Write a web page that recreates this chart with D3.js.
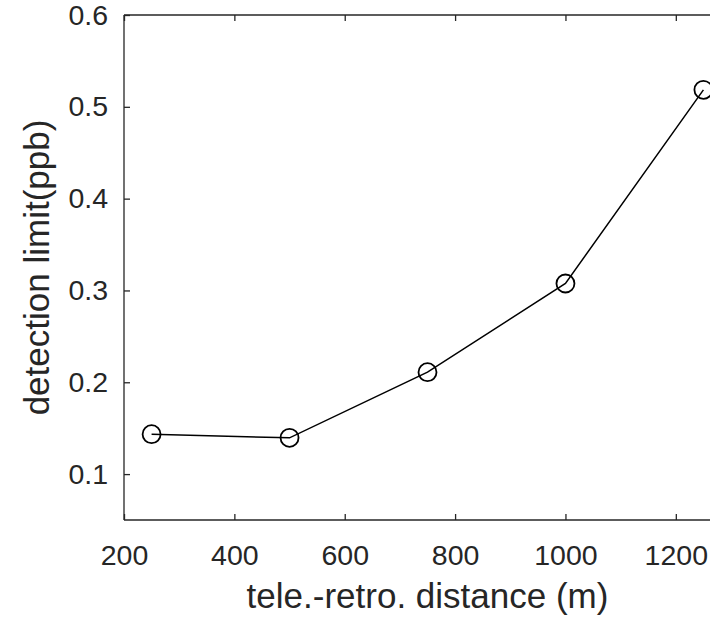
<!DOCTYPE html>
<html>
<head>
<meta charset="utf-8">
<script src="https://cdn.jsdelivr.net/npm/d3@7"></script>
<style>
  html, body { margin: 0; padding: 0; background: #fff; }
  svg { display: block; }
  text { font-family: "Liberation Sans", Arial, Helvetica, sans-serif; fill: #262626; }
</style>
</head>
<body>
<svg id="chart" width="710" height="619"></svg>
<script>
// Data
const distances = [250, 500, 750, 1000, 1250];
const detectionLimit = [0.1435, 0.1395, 0.211, 0.3076, 0.5185];
const xTicks = [200, 400, 600, 800, 1000, 1200];
const yTicks = [0.1, 0.2, 0.3, 0.4, 0.5, 0.6];
const xLabel = "tele.-retro. distance (m)";
const yLabel = "detection limit(ppb)";

(function () {
const svg = d3.select("#chart");
const mLeft = 124, mTop = 15, mRight = 731, mBottom = 520;
const axisColor = "#262626";

const x = d3.scaleLinear().domain([200, 1300]).range([mLeft, mRight]);
const y = d3.scaleLinear().domain([0.05, 0.6]).range([mBottom, mTop]);

// Box lines
const box = svg.append("g").attr("stroke", axisColor).attr("stroke-width", 1.3).attr("fill", "none");
box.append("line").attr("x1", mLeft).attr("x2", mRight).attr("y1", mBottom).attr("y2", mBottom);
box.append("line").attr("x1", mLeft).attr("x2", mRight).attr("y1", mTop).attr("y2", mTop);
box.append("line").attr("x1", mLeft).attr("x2", mLeft).attr("y1", mTop).attr("y2", mBottom);
box.append("line").attr("x1", mRight).attr("x2", mRight).attr("y1", mTop).attr("y2", mBottom);

// Bottom axis (ticks inward)
const xAxis = d3.axisBottom(x).tickValues(xTicks).tickSizeInner(-6).tickSizeOuter(0).tickPadding(25).tickFormat(d3.format("d"));
const gx = svg.append("g").attr("transform", `translate(0,${mBottom})`).call(xAxis);
gx.select(".domain").remove();
gx.selectAll("line").attr("stroke", axisColor).attr("stroke-width", 1.3);
gx.selectAll("text").attr("font-size", 28.5).attr("fill", axisColor).attr("font-family", '"Liberation Sans", Arial, sans-serif');

// Top axis ticks
const xTop = d3.axisTop(x).tickValues(xTicks).tickSizeInner(-6).tickSizeOuter(0).tickFormat("");
const gxt = svg.append("g").attr("transform", `translate(0,${mTop})`).call(xTop);
gxt.select(".domain").remove();
gxt.selectAll("line").attr("stroke", axisColor).attr("stroke-width", 1.3);

// Left axis
const yAxis = d3.axisLeft(y).tickValues(yTicks).tickSizeInner(-6).tickSizeOuter(0).tickPadding(16).tickFormat(d3.format(".1f"));
const gy = svg.append("g").attr("transform", `translate(${mLeft},0)`).call(yAxis);
gy.select(".domain").remove();
gy.selectAll("line").attr("stroke", axisColor).attr("stroke-width", 1.3);
gy.selectAll("text").attr("font-size", 28.5).attr("fill", axisColor).attr("font-family", '"Liberation Sans", Arial, sans-serif');

// Right axis ticks
const yRight = d3.axisRight(y).tickValues(yTicks).tickSizeInner(-6).tickSizeOuter(0).tickFormat("");
const gyr = svg.append("g").attr("transform", `translate(${mRight},0)`).call(yRight);
gyr.select(".domain").remove();
gyr.selectAll("line").attr("stroke", axisColor).attr("stroke-width", 1.3);

// Data line
const pts = distances.map((d, i) => [d, detectionLimit[i]]);
svg.append("path")
  .datum(pts)
  .attr("fill", "none")
  .attr("stroke", "#000")
  .attr("stroke-width", 1.5)
  .attr("d", d3.line().x(d => x(d[0])).y(d => y(d[1])));

// Markers
svg.append("g").selectAll("circle").data(pts).join("circle")
  .attr("cx", d => x(d[0]))
  .attr("cy", d => y(d[1]))
  .attr("r", 9)
  .attr("fill", "none")
  .attr("stroke", "#000")
  .attr("stroke-width", 1.8);

// Axis labels
svg.append("text")
  .attr("x", (mLeft + mRight) / 2)
  .attr("y", 608)
  .attr("text-anchor", "middle")
  .attr("font-size", 35)
  .text(xLabel);

svg.append("text")
  .attr("transform", `translate(49,${(mTop + mBottom) / 2}) rotate(-90)`)
  .attr("text-anchor", "middle")
  .attr("font-size", 35)
  .text(yLabel);
})();
</script>
</body>
</html>
